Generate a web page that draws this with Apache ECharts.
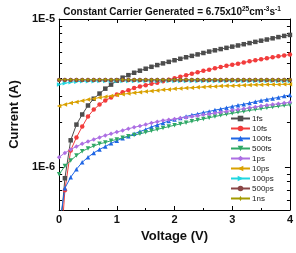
<!DOCTYPE html>
<html>
<head>
<meta charset="utf-8">
<script src="https://cdn.jsdelivr.net/npm/echarts@6/dist/echarts.min.js"></script>
<style>
  html, body { margin: 0; padding: 0; background: #fff; }
  #chart { width: 296px; height: 253px; }
</style>
</head>
<body>
<div id="chart"></div>
<script>
 // voltage sweep (V)
 let voltage = [0, 0.1, 0.2, 0.3, 0.4, 0.5, 0.6, 0.7, 0.8, 0.9, 1.0, 1.1, 1.2, 1.3, 1.4, 1.5, 1.6, 1.7, 1.8, 1.9, 2.0,
     2.1, 2.2, 2.3, 2.4, 2.5, 2.6, 2.7, 2.8, 2.9, 3.0, 3.1, 3.2, 3.3, 3.4, 3.5, 3.6, 3.7, 3.8, 3.9, 4.0];

 // current (A) per lifetime
 let cur1fs = [3.0e-7, 8.43e-7, 1.52e-6, 1.94e-6, 2.27e-6, 2.61e-6, 2.90e-6, 3.14e-6, 3.39e-6, 3.61e-6, 3.84e-6,
     4.02e-6, 4.18e-6, 4.34e-6, 4.48e-6, 4.62e-6, 4.76e-6, 4.89e-6, 5.02e-6, 5.14e-6, 5.27e-6,
     5.39e-6, 5.52e-6, 5.64e-6, 5.77e-6, 5.90e-6, 6.03e-6, 6.15e-6, 6.27e-6, 6.39e-6, 6.51e-6,
     6.63e-6, 6.76e-6, 6.88e-6, 7.01e-6, 7.14e-6, 7.27e-6, 7.41e-6, 7.55e-6, 7.69e-6, 7.81e-6];
 let cur10fs = [2.0e-7, 7.01e-7, 1.30e-6, 1.59e-6, 1.88e-6, 2.20e-6, 2.45e-6, 2.65e-6, 2.82e-6, 2.95e-6, 3.09e-6,
     3.21e-6, 3.31e-6, 3.42e-6, 3.50e-6, 3.58e-6, 3.66e-6, 3.72e-6, 3.81e-6, 3.90e-6, 3.99e-6,
     4.08e-6, 4.18e-6, 4.28e-6, 4.37e-6, 4.47e-6, 4.55e-6, 4.65e-6, 4.74e-6, 4.83e-6, 4.92e-6,
     5.00e-6, 5.09e-6, 5.18e-6, 5.27e-6, 5.35e-6, 5.43e-6, 5.52e-6, 5.60e-6, 5.68e-6, 5.76e-6];
 let cur100fs = [4.0e-7, 7.23e-7, 8.57e-7, 9.70e-7, 1.08e-6, 1.17e-6, 1.25e-6, 1.32e-6, 1.38e-6, 1.45e-6, 1.51e-6,
     1.57e-6, 1.62e-6, 1.68e-6, 1.74e-6, 1.80e-6, 1.87e-6, 1.93e-6, 1.99e-6, 2.05e-6, 2.10e-6,
     2.15e-6, 2.20e-6, 2.25e-6, 2.29e-6, 2.34e-6, 2.38e-6, 2.43e-6, 2.47e-6, 2.52e-6, 2.57e-6,
     2.62e-6, 2.66e-6, 2.71e-6, 2.77e-6, 2.82e-6, 2.87e-6, 2.91e-6, 2.96e-6, 3.02e-6, 3.07e-6];
 let cur500fs = [8.97e-7, 1.02e-6, 1.11e-6, 1.20e-6, 1.28e-6, 1.34e-6, 1.39e-6, 1.44e-6, 1.47e-6, 1.51e-6, 1.54e-6,
     1.58e-6, 1.62e-6, 1.65e-6, 1.68e-6, 1.72e-6, 1.76e-6, 1.80e-6, 1.84e-6, 1.88e-6, 1.92e-6,
     1.96e-6, 2.00e-6, 2.04e-6, 2.08e-6, 2.12e-6, 2.16e-6, 2.20e-6, 2.24e-6, 2.28e-6, 2.31e-6,
     2.35e-6, 2.38e-6, 2.42e-6, 2.45e-6, 2.48e-6, 2.52e-6, 2.55e-6, 2.58e-6, 2.61e-6, 2.64e-6];
 let cur1ps = [1.17e-6, 1.25e-6, 1.32e-6, 1.38e-6, 1.44e-6, 1.49e-6, 1.54e-6, 1.59e-6, 1.64e-6, 1.68e-6, 1.73e-6,
     1.77e-6, 1.82e-6, 1.86e-6, 1.90e-6, 1.94e-6, 1.99e-6, 2.03e-6, 2.07e-6, 2.09e-6, 2.12e-6,
     2.15e-6, 2.17e-6, 2.20e-6, 2.23e-6, 2.26e-6, 2.29e-6, 2.32e-6, 2.35e-6, 2.38e-6, 2.42e-6,
     2.45e-6, 2.48e-6, 2.52e-6, 2.55e-6, 2.59e-6, 2.62e-6, 2.65e-6, 2.68e-6, 2.71e-6, 2.74e-6];
 let cur10ps = [2.59e-6, 2.65e-6, 2.71e-6, 2.76e-6, 2.81e-6, 2.86e-6, 2.90e-6, 2.95e-6, 2.99e-6, 3.03e-6, 3.07e-6,
     3.11e-6, 3.14e-6, 3.18e-6, 3.21e-6, 3.24e-6, 3.27e-6, 3.30e-6, 3.33e-6, 3.35e-6, 3.38e-6,
     3.40e-6, 3.42e-6, 3.44e-6, 3.46e-6, 3.48e-6, 3.50e-6, 3.51e-6, 3.53e-6, 3.54e-6, 3.55e-6,
     3.56e-6, 3.58e-6, 3.59e-6, 3.60e-6, 3.60e-6, 3.61e-6, 3.62e-6, 3.62e-6, 3.63e-6, 3.63e-6];
 let cur100ps = [3.62e-6, 3.69e-6, 3.75e-6, 3.78e-6, 3.80e-6, 3.81e-6, 3.81e-6, 3.82e-6, 3.82e-6, 3.82e-6, 3.82e-6,
     3.82e-6, 3.82e-6, 3.82e-6, 3.82e-6, 3.82e-6, 3.82e-6, 3.82e-6, 3.82e-6, 3.82e-6, 3.82e-6,
     3.82e-6, 3.82e-6, 3.82e-6, 3.82e-6, 3.82e-6, 3.82e-6, 3.82e-6, 3.82e-6, 3.82e-6, 3.82e-6,
     3.82e-6, 3.82e-6, 3.82e-6, 3.82e-6, 3.82e-6, 3.82e-6, 3.82e-6, 3.82e-6, 3.82e-6, 3.82e-6];
 let cur500ps = [3.88e-6, 3.88e-6, 3.88e-6, 3.88e-6, 3.88e-6, 3.88e-6, 3.88e-6, 3.88e-6, 3.88e-6, 3.88e-6, 3.88e-6,
     3.88e-6, 3.88e-6, 3.88e-6, 3.88e-6, 3.88e-6, 3.88e-6, 3.88e-6, 3.88e-6, 3.88e-6, 3.88e-6,
     3.88e-6, 3.88e-6, 3.88e-6, 3.88e-6, 3.88e-6, 3.88e-6, 3.88e-6, 3.88e-6, 3.88e-6, 3.88e-6,
     3.88e-6, 3.88e-6, 3.88e-6, 3.88e-6, 3.88e-6, 3.88e-6, 3.88e-6, 3.88e-6, 3.88e-6, 3.88e-6];
 let cur1ns = [3.90e-6, 3.90e-6, 3.90e-6, 3.90e-6, 3.90e-6, 3.90e-6, 3.90e-6, 3.90e-6, 3.90e-6, 3.90e-6, 3.90e-6,
     3.90e-6, 3.90e-6, 3.90e-6, 3.90e-6, 3.90e-6, 3.90e-6, 3.90e-6, 3.90e-6, 3.90e-6, 3.90e-6,
     3.90e-6, 3.90e-6, 3.90e-6, 3.90e-6, 3.90e-6, 3.90e-6, 3.90e-6, 3.90e-6, 3.90e-6, 3.90e-6,
     3.90e-6, 3.90e-6, 3.90e-6, 3.90e-6, 3.90e-6, 3.90e-6, 3.90e-6, 3.90e-6, 3.90e-6, 3.90e-6];

 let names = ['1fs', '10fs', '100fs', '500fs', '1ps', '10ps', '100ps', '500ps', '1ns'];
 let currents = [cur1fs, cur10fs, cur100fs, cur500fs, cur1ps, cur10ps, cur100ps, cur500ps, cur1ns];
 let colors = ['#4d4d4d', '#f23c3c', '#1f66e5', '#2fa866', '#ad6fe3', '#d9a100', '#1fd6e0', '#8a4646', '#a39a00'];
 let star = 'path://M0,-10 L3,-3 L10,0 L3,3 L0,10 L-3,3 L-10,0 L-3,-3 Z';
 let symbols = ['rect', 'circle', 'triangle', 'triangle', 'diamond', 'triangle', 'triangle', 'circle', star];
 let rotates = [0, 0, 0, 180, 0, 90, -90, 0, 0];

 // log minor ticks 2..9 per decade
 let minorVals = [6e-7, 7e-7, 8e-7, 9e-7, 2e-6, 3e-6, 4e-6, 5e-6, 6e-6, 7e-6, 8e-6, 9e-6];

 let font = 'Liberation Sans, Arial, sans-serif';
 let chart = echarts.init(document.getElementById('chart'));

 let series = names.map(function (name, i) {
     return {
         name: name,
         type: 'line',
         data: voltage.map(function (v, j) { return [v, currents[i][j]]; }),
         symbol: symbols[i],
         symbolRotate: rotates[i],
         symbolSize: 4.5,
         showAllSymbol: true,
         clip: true,
         lineStyle: {color: colors[i], width: 1},
         itemStyle: {color: colors[i], borderWidth: 0},
         animation: false
     };
 });

 let yMin = 5.15e-7, yMax = 1e-5;

 let option = {
     animation: false,
     title: {
         text: 'Constant Carrier Generated = 6.75x10{sup|25}cm{sup|-3}s{sup|-1}',
         left: 167, top: 1, textAlign: 'center',
         textStyle: {
             fontFamily: font, fontSize: 10, fontWeight: 'bold', color: '#111',
             rich: {
                 sup: {fontFamily: font, fontSize: 6.5, fontWeight: 'bold', color: '#111', padding: [0, 0, 5, 0]}
             }
         }
     },
     grid: {left: 53, right: 6, top: 19, bottom: 43},
     legend: {
         orient: 'vertical',
         left: 230, top: 114,
         padding: 0,
         itemWidth: 19, itemHeight: 7, itemGap: 1,
         textStyle: {fontFamily: font, fontSize: 8, lineHeight: 9, color: '#222', padding: [0, 0, 0, -3]},
         data: names
     },
     xAxis: [{
         type: 'value', min: 0, max: 4, interval: 1,
         name: 'Voltage (V)', nameLocation: 'middle', nameGap: 19,
         nameTextStyle: {fontFamily: font, fontSize: 13, fontWeight: 'bold', color: '#111'},
         axisLine: {show: true, lineStyle: {color: '#000', width: 1}},
         axisTick: {show: true, inside: true, length: 4, lineStyle: {color: '#000'}},
         minorTick: {show: true, splitNumber: 2, length: 2, lineStyle: {color: '#000'}},
         axisLabel: {fontFamily: font, fontSize: 11, fontWeight: 'bold', color: '#111', margin: 4},
         splitLine: {show: false}
     }, {
         type: 'value', min: 0, max: 4, interval: 1, position: 'top',
         axisLine: {show: true, lineStyle: {color: '#000', width: 1}},
         axisTick: {show: true, inside: true, length: 4, lineStyle: {color: '#000'}},
         minorTick: {show: true, splitNumber: 2, length: 2, lineStyle: {color: '#000'}},
         axisLabel: {show: false},
         splitLine: {show: false}
     }],
     yAxis: [{
         type: 'log', min: yMin, max: yMax,
         name: 'Current (A)', nameLocation: 'middle', nameGap: 34,
         nameTextStyle: {fontFamily: font, fontSize: 13, fontWeight: 'bold', color: '#111'},
         axisLine: {show: true, lineStyle: {color: '#000', width: 1}},
         axisTick: {show: true, inside: true, length: 5, lineStyle: {color: '#000'}},
         axisLabel: {
             fontFamily: font, fontSize: 11, fontWeight: 'bold', color: '#111', margin: 4,
             showMinLabel: false,
             formatter: function (v) { return '1E' + Math.round(Math.log10(v)); }
         },
         splitLine: {show: false}
     }, {
         type: 'log', min: yMin, max: yMax, position: 'left',
         axisLine: {show: false},
         axisTick: {show: true, inside: true, length: 3, customValues: minorVals, lineStyle: {color: '#000'}},
         axisLabel: {show: false},
         splitLine: {show: false}
     }, {
         type: 'log', min: yMin, max: yMax, position: 'right',
         axisLine: {show: true, lineStyle: {color: '#000', width: 1}},
         axisTick: {show: true, inside: true, length: 5, lineStyle: {color: '#000'}},
         axisLabel: {show: false},
         splitLine: {show: false}
     }, {
         type: 'log', min: yMin, max: yMax, position: 'right',
         axisLine: {show: false},
         axisTick: {show: true, inside: true, length: 3, customValues: minorVals, lineStyle: {color: '#000'}},
         axisLabel: {show: false},
         splitLine: {show: false}
     }],
     series: series
 };

 chart.setOption(option);
</script>
</body>
</html>
